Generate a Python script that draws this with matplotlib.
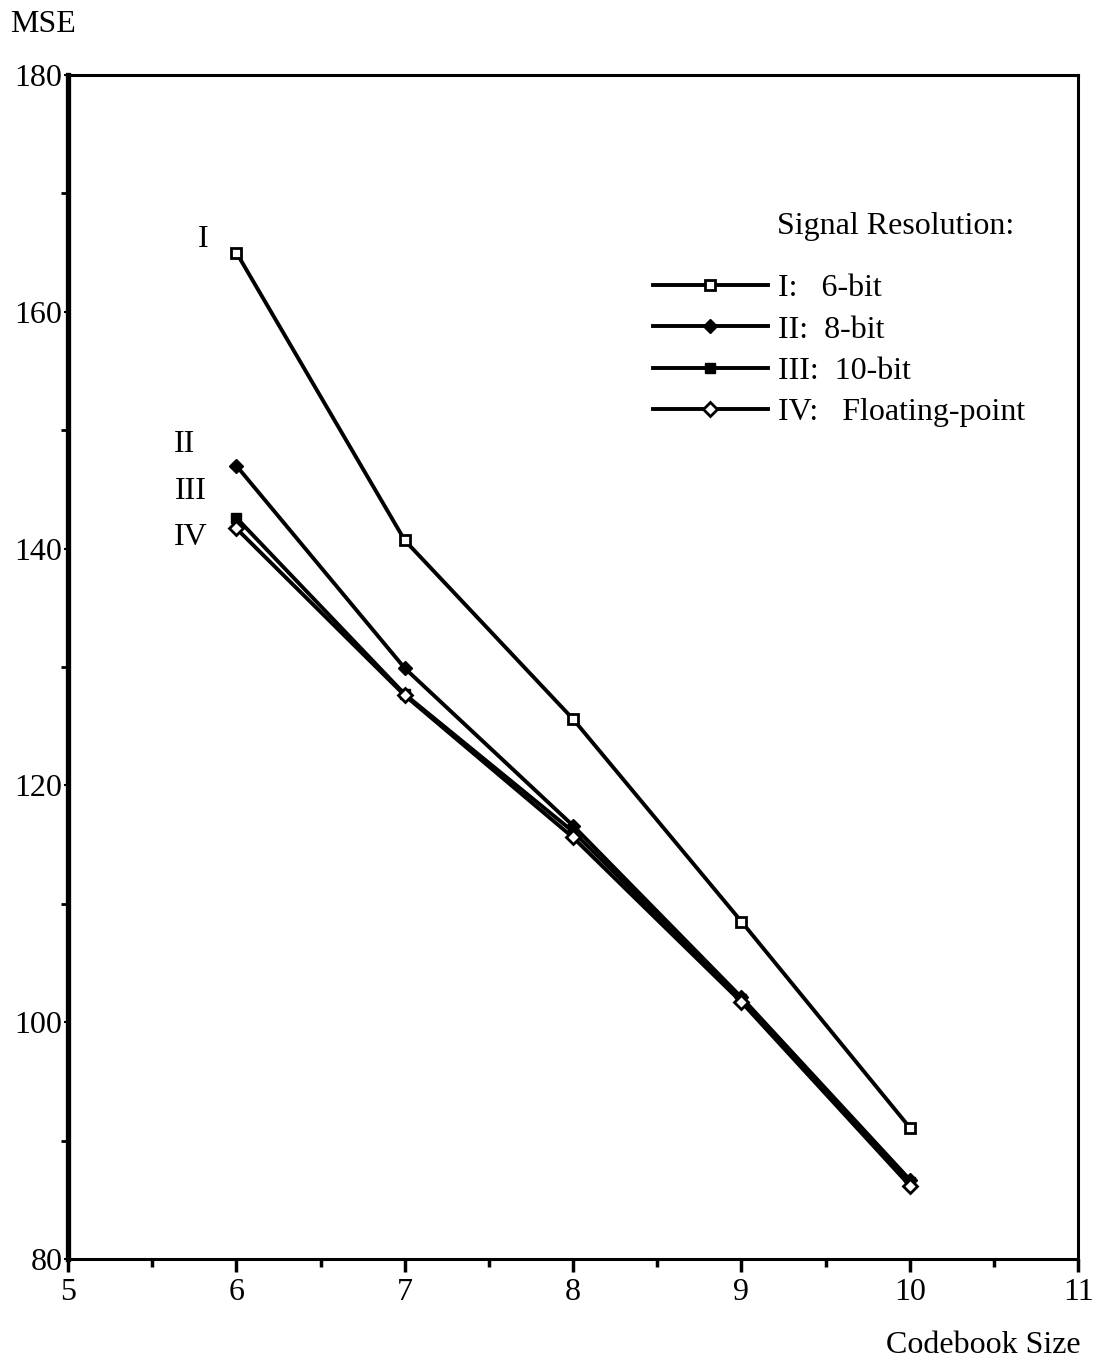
import matplotlib
matplotlib.use("Agg")
import matplotlib.pyplot as plt
from matplotlib.ticker import MultipleLocator

plt.rcParams['font.family'] = ['Liberation Serif', 'DejaVu Serif']

# codebook size vs MSE
codebook = [6, 7, 8, 9, 10]
mse_6bit = [165.0, 140.7, 125.6, 108.5, 91.1]
mse_8bit = [147.0, 129.9, 116.6, 102.1, 86.7]
mse_10bit = [142.6, 127.7, 116.1, 102.0, 86.5]
mse_float = [141.7, 127.6, 115.6, 101.7, 86.2]

labels = ['I:   6-bit', 'II:  8-bit', 'III:  10-bit', 'IV:   Floating-point']
roman = ['I', 'II', 'III', 'IV']
roman_x = [5.80, 5.69, 5.73, 5.73]
roman_y = [166.1, 148.8, 144.8, 140.9]

fs = 23

fig = plt.figure(figsize=(10.99, 13.63), dpi=100)
ax = fig.add_axes([0.0619, 0.0763, 0.9191, 0.8687])

lw = 2.8
ax.plot(codebook, mse_6bit, color='black', lw=lw, marker='s', ms=7,
        mfc='white', mec='black', mew=2, label=labels[0], zorder=3)
ax.plot(codebook, mse_8bit, color='black', lw=lw, marker='D', ms=7,
        mfc='black', mec='black', label=labels[1], zorder=3)
ax.plot(codebook, mse_10bit, color='black', lw=lw, marker='s', ms=7,
        mfc='black', mec='black', label=labels[2], zorder=3)
ax.plot(codebook, mse_float, color='black', lw=lw, marker='D', ms=7,
        mfc='white', mec='black', mew=2, label=labels[3], zorder=4)

for r, x, y in zip(roman, roman_x, roman_y):
    ax.text(x, y, r, fontsize=fs, ha='center', va='center')

ax.set_xlim(5, 11)
ax.set_ylim(80, 180)
ax.xaxis.set_major_locator(MultipleLocator(1))
ax.xaxis.set_minor_locator(MultipleLocator(0.5))
ax.yaxis.set_major_locator(MultipleLocator(20))
ax.yaxis.set_minor_locator(MultipleLocator(10))

ax.tick_params(axis='x', which='major', direction='out', length=9, width=2.5,
               labelsize=fs, pad=5)
ax.tick_params(axis='x', which='minor', direction='out', length=6, width=2.5)
ax.tick_params(axis='y', which='major', direction='out', length=3, width=1.5,
               labelsize=fs, pad=1)
ax.tick_params(axis='y', which='minor', direction='out', length=5, width=2)

for side in ['top', 'right', 'bottom']:
    ax.spines[side].set_linewidth(2.2)
ax.spines['left'].set_linewidth(3.8)

fig.text(0.009, 0.982, 'MSE', fontsize=fs, ha='left', va='center')
fig.text(0.983, 0.013, 'Codebook Size', fontsize=fs, ha='right', va='center')
fig.text(0.707, 0.8335, 'Signal Resolution:', fontsize=fs, ha='left', va='center')

ax.legend(loc='upper left', bbox_to_anchor=(0.594, 0.799),
          bbox_transform=fig.transFigure, frameon=False, fontsize=fs,
          borderpad=0, borderaxespad=0, handlelength=3.6, handletextpad=0.31,
          labelspacing=0.37, numpoints=1)

fig.savefig('out.png', dpi=100)
